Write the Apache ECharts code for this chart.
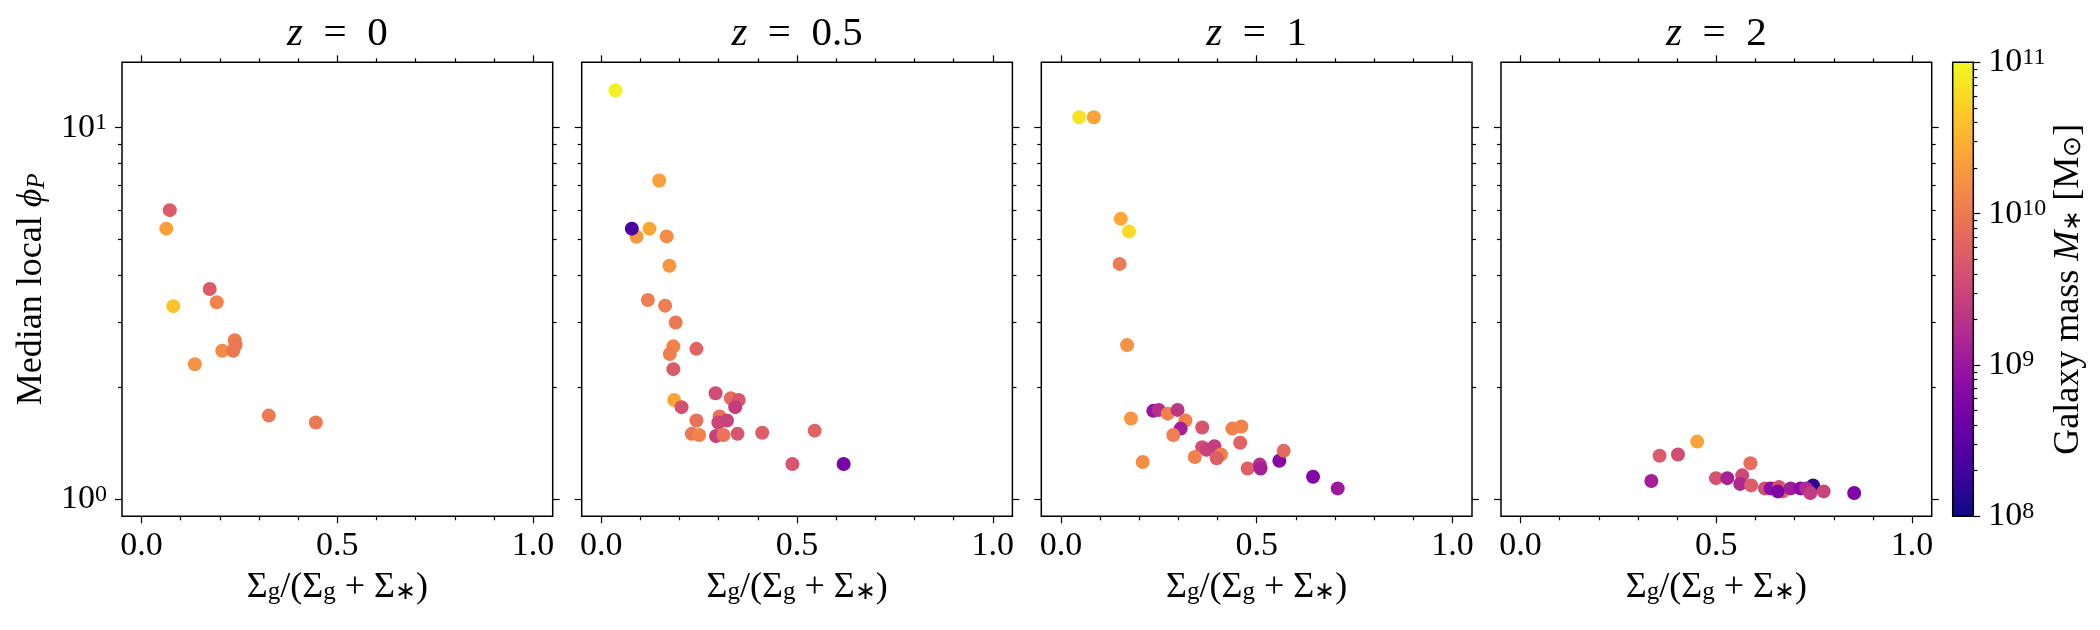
<!DOCTYPE html>
<html>
<head>
<meta charset="utf-8">
<script src="https://cdn.jsdelivr.net/npm/echarts@6.0.0/dist/echarts.min.js"></script>
<style>
  html, body { margin: 0; padding: 0; background: #fff; }
  #main { width: 2100px; height: 630px; }
</style>
</head>
<body>
<div id="main"></div>
<script>
// 数据：每个面板 gas fraction / median phi_P / log10(M*)
var fracZ0 = [0.072, 0.063, 0.174, 0.192, 0.081, 0.238, 0.240, 0.206, 0.234, 0.136, 0.325, 0.445];
var phiZ0  = [6.0, 5.35, 3.68, 3.39, 3.31, 2.68, 2.60, 2.51, 2.51, 2.31, 1.68, 1.61];
var massZ0 = [9.71, 10.34, 9.71, 10.1, 10.61, 10.04, 9.98, 10.16, 9.98, 10.22, 10.01, 10.01];

var fracZ05 = [0.036, 0.148, 0.090, 0.078, 0.123, 0.167, 0.174, 0.119, 0.163, 0.190, 0.184, 0.175, 0.243, 0.184, 0.186, 0.205, 0.292, 0.331, 0.351, 0.342, 0.243, 0.302, 0.299, 0.321, 0.231, 0.250, 0.293, 0.312, 0.348, 0.411, 0.545, 0.488, 0.619];
var phiZ05  = [12.6, 7.21, 5.09, 5.35, 5.35, 5.1, 4.25, 3.44, 3.32, 2.99, 2.58, 2.46, 2.54, 2.24, 1.85, 1.77, 1.93, 1.87, 1.85, 1.77, 1.63, 1.67, 1.61, 1.63, 1.50, 1.49, 1.48, 1.49, 1.50, 1.51, 1.53, 1.245, 1.245];
var massZ05 = [10.94, 10.34, 10.28, 8.36, 10.4, 10.16, 10.28, 10.04, 10.04, 9.98, 10.1, 10.04, 9.8, 9.71, 10.4, 9.59, 9.56, 9.89, 9.65, 9.41, 9.92, 9.92, 9.5, 9.47, 9.98, 10.1, 9.44, 9.95, 9.65, 9.74, 9.8, 9.65, 8.72];

var fracZ1 = [0.047, 0.084, 0.153, 0.174, 0.150, 0.169, 0.179, 0.209, 0.236, 0.250, 0.273, 0.298, 0.318, 0.306, 0.287, 0.361, 0.438, 0.461, 0.458, 0.361, 0.372, 0.392, 0.342, 0.409, 0.398, 0.477, 0.508, 0.510, 0.558, 0.569, 0.644, 0.707];
var phiZ1  = [10.67, 10.67, 5.69, 5.26, 4.30, 2.60, 1.65, 1.26, 1.73, 1.74, 1.70, 1.74, 1.63, 1.55, 1.49, 1.56, 1.55, 1.57, 1.42, 1.38, 1.36, 1.39, 1.30, 1.32, 1.29, 1.21, 1.24, 1.21, 1.27, 1.35, 1.15, 1.07];
var massZ1 = [10.85, 10.37, 10.4, 10.79, 10.01, 10.22, 10.25, 10.19, 8.99, 9.26, 10.07, 9.32, 10.07, 9.08, 10.04, 9.65, 10.07, 10.1, 9.8, 9.59, 9.44, 9.41, 10.07, 10.07, 9.74, 9.77, 9.29, 9.11, 8.84, 9.86, 8.78, 9.02];

var fracZ2 = [0.747, 0.451, 0.355, 0.402, 0.587, 0.334, 0.499, 0.528, 0.566, 0.561, 0.589, 0.624, 0.639, 0.660, 0.670, 0.657, 0.690, 0.715, 0.729, 0.740, 0.774, 0.852];
var phiZ2  = [1.09, 1.43, 1.31, 1.32, 1.25, 1.12, 1.14, 1.14, 1.16, 1.10, 1.09, 1.07, 1.07, 1.08, 1.05, 1.05, 1.07, 1.07, 1.07, 1.04, 1.05, 1.04];
var massZ2 = [8.18, 10.37, 9.71, 9.56, 9.89, 9.08, 9.62, 9.11, 9.53, 9.17, 9.74, 9.56, 8.9, 9.59, 9.8, 8.75, 9.05, 8.87, 9.2, 9.38, 9.47, 8.75];

var panelTitles = ['0', '0.5', '1', '2'];
var xMajorTicks = [0, 0.5, 1.0];
var xMinorTicks = [0.1, 0.2, 0.3, 0.4, 0.6, 0.7, 0.8, 0.9];
var yMajorTicks = [1, 10];
var yMinorTicks = [2, 3, 4, 5, 6, 7, 8, 9];
var cbarMajorTicks = [8, 9, 10, 11];

var panels = [
  [fracZ0, phiZ0, massZ0],
  [fracZ05, phiZ05, massZ05],
  [fracZ1, phiZ1, massZ1],
  [fracZ2, phiZ2, massZ2]
];

// colorbar 次刻度 (log 空间)
var cbarMinorTicks = [];
[8, 9, 10].forEach(function (e) {
  for (var k = 2; k <= 9; k++) cbarMinorTicks.push(e + Math.log10(k));
});

var FONT = 'Liberation Serif';
var FS = 34;     // 刻度标签
var NFS = 36;    // 轴名称
var plasma = ['#0d0887', '#41049d', '#6a00a8', '#8f0da4', '#b12a90', '#cc4778',
  '#e16462', '#f2844b', '#fca636', '#fcce25', '#f0f921'];

var gridLeft = [122, 581.7, 1041.3, 1501];
var gridTop = 62.3, gridW = 430.7, gridH = 454;

var supRich = {
  b: { fontFamily: FONT, fontSize: FS, lineHeight: 34, color: '#000' },
  s: { fontFamily: FONT, fontSize: 24, lineHeight: 20, verticalAlign: 'top', color: '#000' }
};
var subRich = {
  i: { fontFamily: FONT, fontSize: NFS, fontStyle: 'italic', color: '#000' },
  ti: { fontFamily: FONT, fontSize: 41, fontStyle: 'italic', color: '#000' },
  sub: { fontFamily: FONT, fontSize: 25, lineHeight: 18, verticalAlign: 'bottom', color: '#000' },
  isub: { fontFamily: FONT, fontSize: 25, lineHeight: 18, verticalAlign: 'bottom', fontStyle: 'italic', color: '#000' }
};

function tickStyle(ticks, len) {
  return { show: true, customValues: ticks, length: len, inside: false, lineStyle: { color: '#000', width: 1.2 } };
}

function xAxisDef(g, pos, ticks, len, withLabel) {
  var ax = {
    type: 'value', gridIndex: g, position: pos, min: -0.05, max: 1.05,
    axisLine: { show: false, onZero: false }, splitLine: { show: false },
    axisTick: tickStyle(ticks, len),
    axisLabel: { show: false }
  };
  if (withLabel) {
    ax.axisLabel = {
      show: true, customValues: ticks, margin: 13, color: '#000',
      fontFamily: FONT, fontSize: FS,
      formatter: function (v) { return v.toFixed(1); }
    };
    ax.name = 'Σ{sub|g}/(Σ{sub|g} + Σ{sub|∗})';
    ax.nameLocation = 'middle';
    ax.nameGap = 53;
    ax.nameTextStyle = { fontFamily: FONT, fontSize: NFS, color: '#000', rich: subRich };
  }
  return ax;
}

function yAxisDef(g, pos, ticks, len, withLabel) {
  var ax = {
    type: 'log', logBase: 10, gridIndex: g, position: pos, min: 0.9, max: 15,
    axisLine: { show: false, onZero: false }, splitLine: { show: false },
    axisTick: tickStyle(ticks, len),
    axisLabel: { show: false }
  };
  if (withLabel) {
    ax.axisLabel = {
      show: true, customValues: ticks, margin: 15, color: '#000',
      formatter: function (v) { return '{b|10}{s|' + Math.round(Math.log10(v)) + '}'; },
      rich: supRich
    };
  }
  return ax;
}

var grids = [], xAxes = [], yAxes = [], series = [], titles = [];

panels.forEach(function (p, g) {
  grids.push({
    left: gridLeft[g], top: gridTop, width: gridW, height: gridH,
    show: true, borderColor: '#000', borderWidth: 1.5, backgroundColor: 'transparent',
    containLabel: false, outerBoundsMode: 'none'
  });
  xAxes.push(xAxisDef(g, 'bottom', xMajorTicks, 7, true));
  xAxes.push(xAxisDef(g, 'bottom', xMinorTicks, 4, false));
  xAxes.push(xAxisDef(g, 'top', xMajorTicks, 7, false));
  xAxes.push(xAxisDef(g, 'top', xMinorTicks, 4, false));

  yAxes.push(yAxisDef(g, 'left', yMajorTicks, 7, g === 0));
  yAxes.push(yAxisDef(g, 'left', yMinorTicks, 4, false));
  yAxes.push(yAxisDef(g, 'right', yMajorTicks, 7, false));
  yAxes.push(yAxisDef(g, 'right', yMinorTicks, 4, false));

  if (g === 0) {
    var ya = yAxes[yAxes.length - 4];
    ya.name = 'Median local {i|ϕ}{isub|P}';
    ya.nameLocation = 'middle';
    ya.nameRotate = 90;
    ya.nameGap = 72;
    ya.nameTextStyle = { fontFamily: FONT, fontSize: NFS, color: '#000', rich: subRich };
  }

  var data = p[0].map(function (x, i) { return [x, p[1][i], p[2][i]]; });
  series.push({
    type: 'scatter', xAxisIndex: g * 4, yAxisIndex: g * 4,
    symbol: 'circle', symbolSize: 14, data: data,
    itemStyle: { opacity: 1 }, silent: true
  });

  titles.push({
    text: '{ti|z}\u2002=\u2002' + panelTitles[g],
    left: gridLeft[g] + gridW / 2, top: 14, textAlign: 'center', padding: 0,
    textStyle: { fontFamily: FONT, fontSize: 41, fontWeight: 'normal', color: '#000', rich: subRich }
  });
});

// colorbar
var cb = grids.length;
grids.push({
  left: 1952.7, top: gridTop, width: 20.6, height: gridH, z: 10,
  show: true, borderColor: '#000', borderWidth: 1.5, backgroundColor: 'transparent',
  containLabel: false, outerBoundsMode: 'none'
});
xAxes.push({ type: 'value', gridIndex: cb, show: false, min: 0, max: 1 });
yAxes.push({
  type: 'value', gridIndex: cb, position: 'right', min: 8, max: 11,
  axisLine: { show: false, onZero: false }, splitLine: { show: false },
  axisTick: tickStyle(cbarMajorTicks, 7),
  axisLabel: {
    show: true, customValues: cbarMajorTicks, margin: 15, color: '#000',
    formatter: function (v) { return '{b|10}{s|' + Math.round(v) + '}'; },
    rich: supRich
  },
  name: 'Galaxy mass {i|M}{sub|∗} [M{sub|⊙}]',
  nameLocation: 'middle', nameRotate: 90, nameGap: 76,
  nameTextStyle: { fontFamily: FONT, fontSize: NFS, color: '#000', rich: subRich }
});
yAxes.push({
  type: 'value', gridIndex: cb, position: 'right', min: 8, max: 11,
  axisLine: { show: false, onZero: false }, splitLine: { show: false },
  axisTick: tickStyle(cbarMinorTicks, 4),
  axisLabel: { show: false }
});
series.push({ type: 'scatter', xAxisIndex: xAxes.length - 1, yAxisIndex: yAxes.length - 2, data: [] });

var chart = echarts.init(document.getElementById('main'));
chart.setOption({
  animation: false,
  backgroundColor: '#fff',
  title: titles,
  grid: grids,
  xAxis: xAxes,
  yAxis: yAxes,
  visualMap: {
    type: 'continuous', min: 8, max: 11, dimension: 2, seriesIndex: [0, 1, 2, 3],
    orient: 'vertical', left: 1952.7, top: gridTop, itemWidth: 20.6, itemHeight: gridH,
    padding: 0, calculable: false, hoverLink: false,
    inRange: { color: plasma }
  },
  series: series
});
</script>
</body>
</html>
